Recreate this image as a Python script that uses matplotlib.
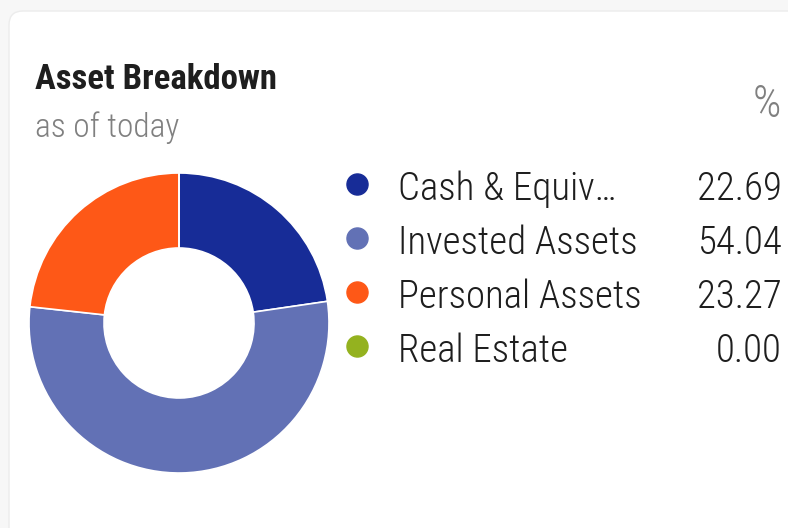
import matplotlib
matplotlib.use("Agg")
import matplotlib.pyplot as plt
from matplotlib.patches import FancyBboxPatch

plt.rcParams['font.family'] = ['Roboto Condensed', 'Liberation Sans Narrow', 'Roboto', 'DejaVu Sans']

categories = ["Cash & Equiv\u2026", "Invested Assets", "Personal Assets", "Real Estate"]
values = [22.69, 54.04, 23.27, 0.00]
colors = ["#172c97", "#6271b5", "#fe5817", "#94b21f"]
title = "Asset Breakdown"
subtitle = "as of today"

W, H = 788, 528
fig = plt.figure(figsize=(W / 100, H / 100), dpi=100)
fig.patch.set_facecolor("#f7f7f7")

# overlay in pixel coordinates (origin top-left)
bg = fig.add_axes([0, 0, 1, 1])
bg.set_xlim(0, W)
bg.set_ylim(H, 0)
bg.axis("off")

card = FancyBboxPatch((9, 11), W + 40, H + 40, boxstyle="round,pad=0,rounding_size=14",
                      facecolor="white", edgecolor="#ececec", linewidth=1)
bg.add_patch(card)

bg.text(35, 89, title, fontsize=25, fontweight="bold", color="#1e1e1e", va="baseline")
bg.text(35, 137, subtitle, fontsize=24, fontweight="light", color="#808080", va="baseline")
bg.text(781, 117, "%", fontsize=32, fontweight="light", color="#808080", va="baseline", ha="right")

row_y = [200, 254, 308, 362]
for i, (lab, val, c) in enumerate(zip(categories, values, colors)):
    y = row_y[i]
    bg.scatter([357], [y - 16], s=230, color=c, zorder=3)
    bg.text(398, y, lab, fontsize=28, fontweight="light", color="#1e1e1e", va="baseline")
    bg.text(782, y, f"{val:.2f}", fontsize=28, fontweight="light", color="#1e1e1e",
            va="baseline", ha="right")

# donut
cx, cy, r = 179, 323, 150
ax = fig.add_axes([(cx - r) / W, (H - cy - r) / H, 2 * r / W, 2 * r / H])
ax.pie(values, colors=colors, startangle=90, counterclock=False, radius=1,
       wedgeprops=dict(width=0.5, edgecolor="white", linewidth=1.2))
ax.set_xlim(-1, 1)
ax.set_ylim(-1, 1)
ax.set_aspect("equal")
ax.axis("off")

fig.savefig("out.png", dpi=100, facecolor=fig.get_facecolor())
